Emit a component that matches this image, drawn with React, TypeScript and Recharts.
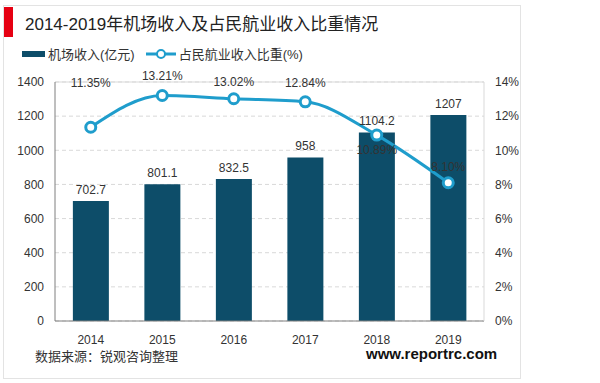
import React from 'react';
import {
    ComposedChart,
    XAxis,
    YAxis,
    Bar,
    Line,
    LabelList,
    CartesianGrid,
    ReferenceLine
} from 'recharts';

const years = ['2014', '2015', '2016', '2017', '2018', '2019'];
const airportIncome = [702.7, 801.1, 832.5, 958, 1104.2, 1207];
const incomeShare = [11.35, 13.21, 13.02, 12.84, 10.89, 8.1];
const leftTicks = [0, 200, 400, 600, 800, 1000, 1200, 1400];
const rightTicks = [0, 2, 4, 6, 8, 10, 12, 14];

const data = years.map((y, i) => ({
    year: y,
    income: airportIncome[i],
    share: incomeShare[i]
}));

const FONT = '"Liberation Sans", Arial, "Noto Sans CJK SC", sans-serif';
const BAR = '#0d4d69';
const LINE = '#1f9dcc';

// vertical shift of each percentage label relative to its point
const shareLabelShift = [-44, -19, -17, -19, 15, -16];

const ShareLabel = (props: any) => {
    const { x, y, index, value } = props;
    return (
        <text
            x={x}
            y={y + shareLabelShift[index]}
            textAnchor="middle"
            dominantBaseline="central"
            fontSize={12}
            fill="#333"
            fontFamily={FONT}
        >
            {value.toFixed(2)}%
        </text>
    );
};

const LegendBox = () => (
    <div style={{ display: 'flex', alignItems: 'center', fontSize: 13, color: '#333', fontFamily: FONT }}>
        <span style={{ width: 23, height: 6, background: BAR, display: 'inline-block', marginRight: 3 }} />
        <span>机场收入(亿元)</span>
        <svg width={32} height={12} style={{ marginLeft: 10, marginRight: 2 }}>
            <line x1={1} y1={6} x2={31} y2={6} stroke={LINE} strokeWidth={3} />
            <circle cx={16} cy={6} r={4} fill="#fff" stroke={LINE} strokeWidth={2} />
        </svg>
        <span>占民航业收入比重(%)</span>
    </div>
);

const App: React.FC = () => {
    return (
        <div style={{ position: 'absolute', left: 0, top: 0, width: 600, height: 383, background: '#fff', fontFamily: FONT }}>
            <div style={{ position: 'absolute', left: 3, top: 5, width: 516, height: 372, border: '1px solid #e3e3e3' }} />
            <div style={{ position: 'absolute', left: 4, top: 7, width: 9, height: 30, background: '#e60012' }} />
            <div style={{ position: 'absolute', left: 25, top: 10, fontSize: 17, color: '#222', whiteSpace: 'nowrap' }}>
                2014-2019年机场收入及占民航业收入比重情况
            </div>
            <div style={{ position: 'absolute', left: 22, top: 44 }}>
                <LegendBox />
            </div>
            <div style={{ position: 'absolute', left: 35, top: 346, fontSize: 13, color: '#333' }}>
                数据来源：锐观咨询整理
            </div>
            <div style={{ position: 'absolute', left: 366, top: 345, fontSize: 15, fontWeight: 'bold', color: '#111' }}>
                www.reportrc.com
            </div>
            <div style={{ position: 'absolute', left: 0, top: 0 }}>
                <ComposedChart
                    width={600}
                    height={383}
                    data={data}
                    margin={{ top: 82, right: 0, bottom: 32, left: 0 }}
                    barCategoryGap="25%"
                >
                    <CartesianGrid vertical={false} stroke="#d9d9d9" strokeDasharray="4 3" yAxisId="left" />
                    <XAxis
                        dataKey="year"
                        height={30}
                        axisLine={{ stroke: '#7f7f7f' }}
                        tickLine={false}
                        tick={{ fontSize: 12, fill: '#333', fontFamily: FONT }}
                        tickMargin={8}
                    />
                    <YAxis
                        yAxisId="left"
                        width={55}
                        domain={[0, 1400]}
                        ticks={leftTicks}
                        axisLine={{ stroke: '#7f7f7f' }}
                        tickLine={false}
                        tickSize={6}
                        tickMargin={5}
                        tick={{ fontSize: 12, fill: '#333', fontFamily: FONT }}
                    />
                    <YAxis
                        yAxisId="right"
                        orientation="right"
                        width={116}
                        domain={[0, 14]}
                        ticks={rightTicks}
                        tickFormatter={(v: number) => `${v}%`}
                        axisLine={{ stroke: '#d9d9d9' }}
                        tickLine={false}
                        tickSize={6}
                        tickMargin={5}
                        tick={{ fontSize: 12, fill: '#333', fontFamily: FONT, textAnchor: 'start' }}
                    />
                    <ReferenceLine yAxisId="left" y={1400} stroke="#d9d9d9" />
                    <Bar yAxisId="left" dataKey="income" fill={BAR} isAnimationActive={false}>
                        <LabelList dataKey="income" position="top" offset={7} fontSize={12} fill="#333" fontFamily={FONT} />
                    </Bar>
                    <Line
                        yAxisId="right"
                        type="monotone"
                        dataKey="share"
                        stroke={LINE}
                        strokeWidth={3}
                        dot={{ r: 5, fill: '#fff', stroke: LINE, strokeWidth: 3 }}
                        isAnimationActive={false}
                    >
                        <LabelList dataKey="share" content={<ShareLabel />} />
                    </Line>
                </ComposedChart>
            </div>
        </div>
    );
};

export default App;
